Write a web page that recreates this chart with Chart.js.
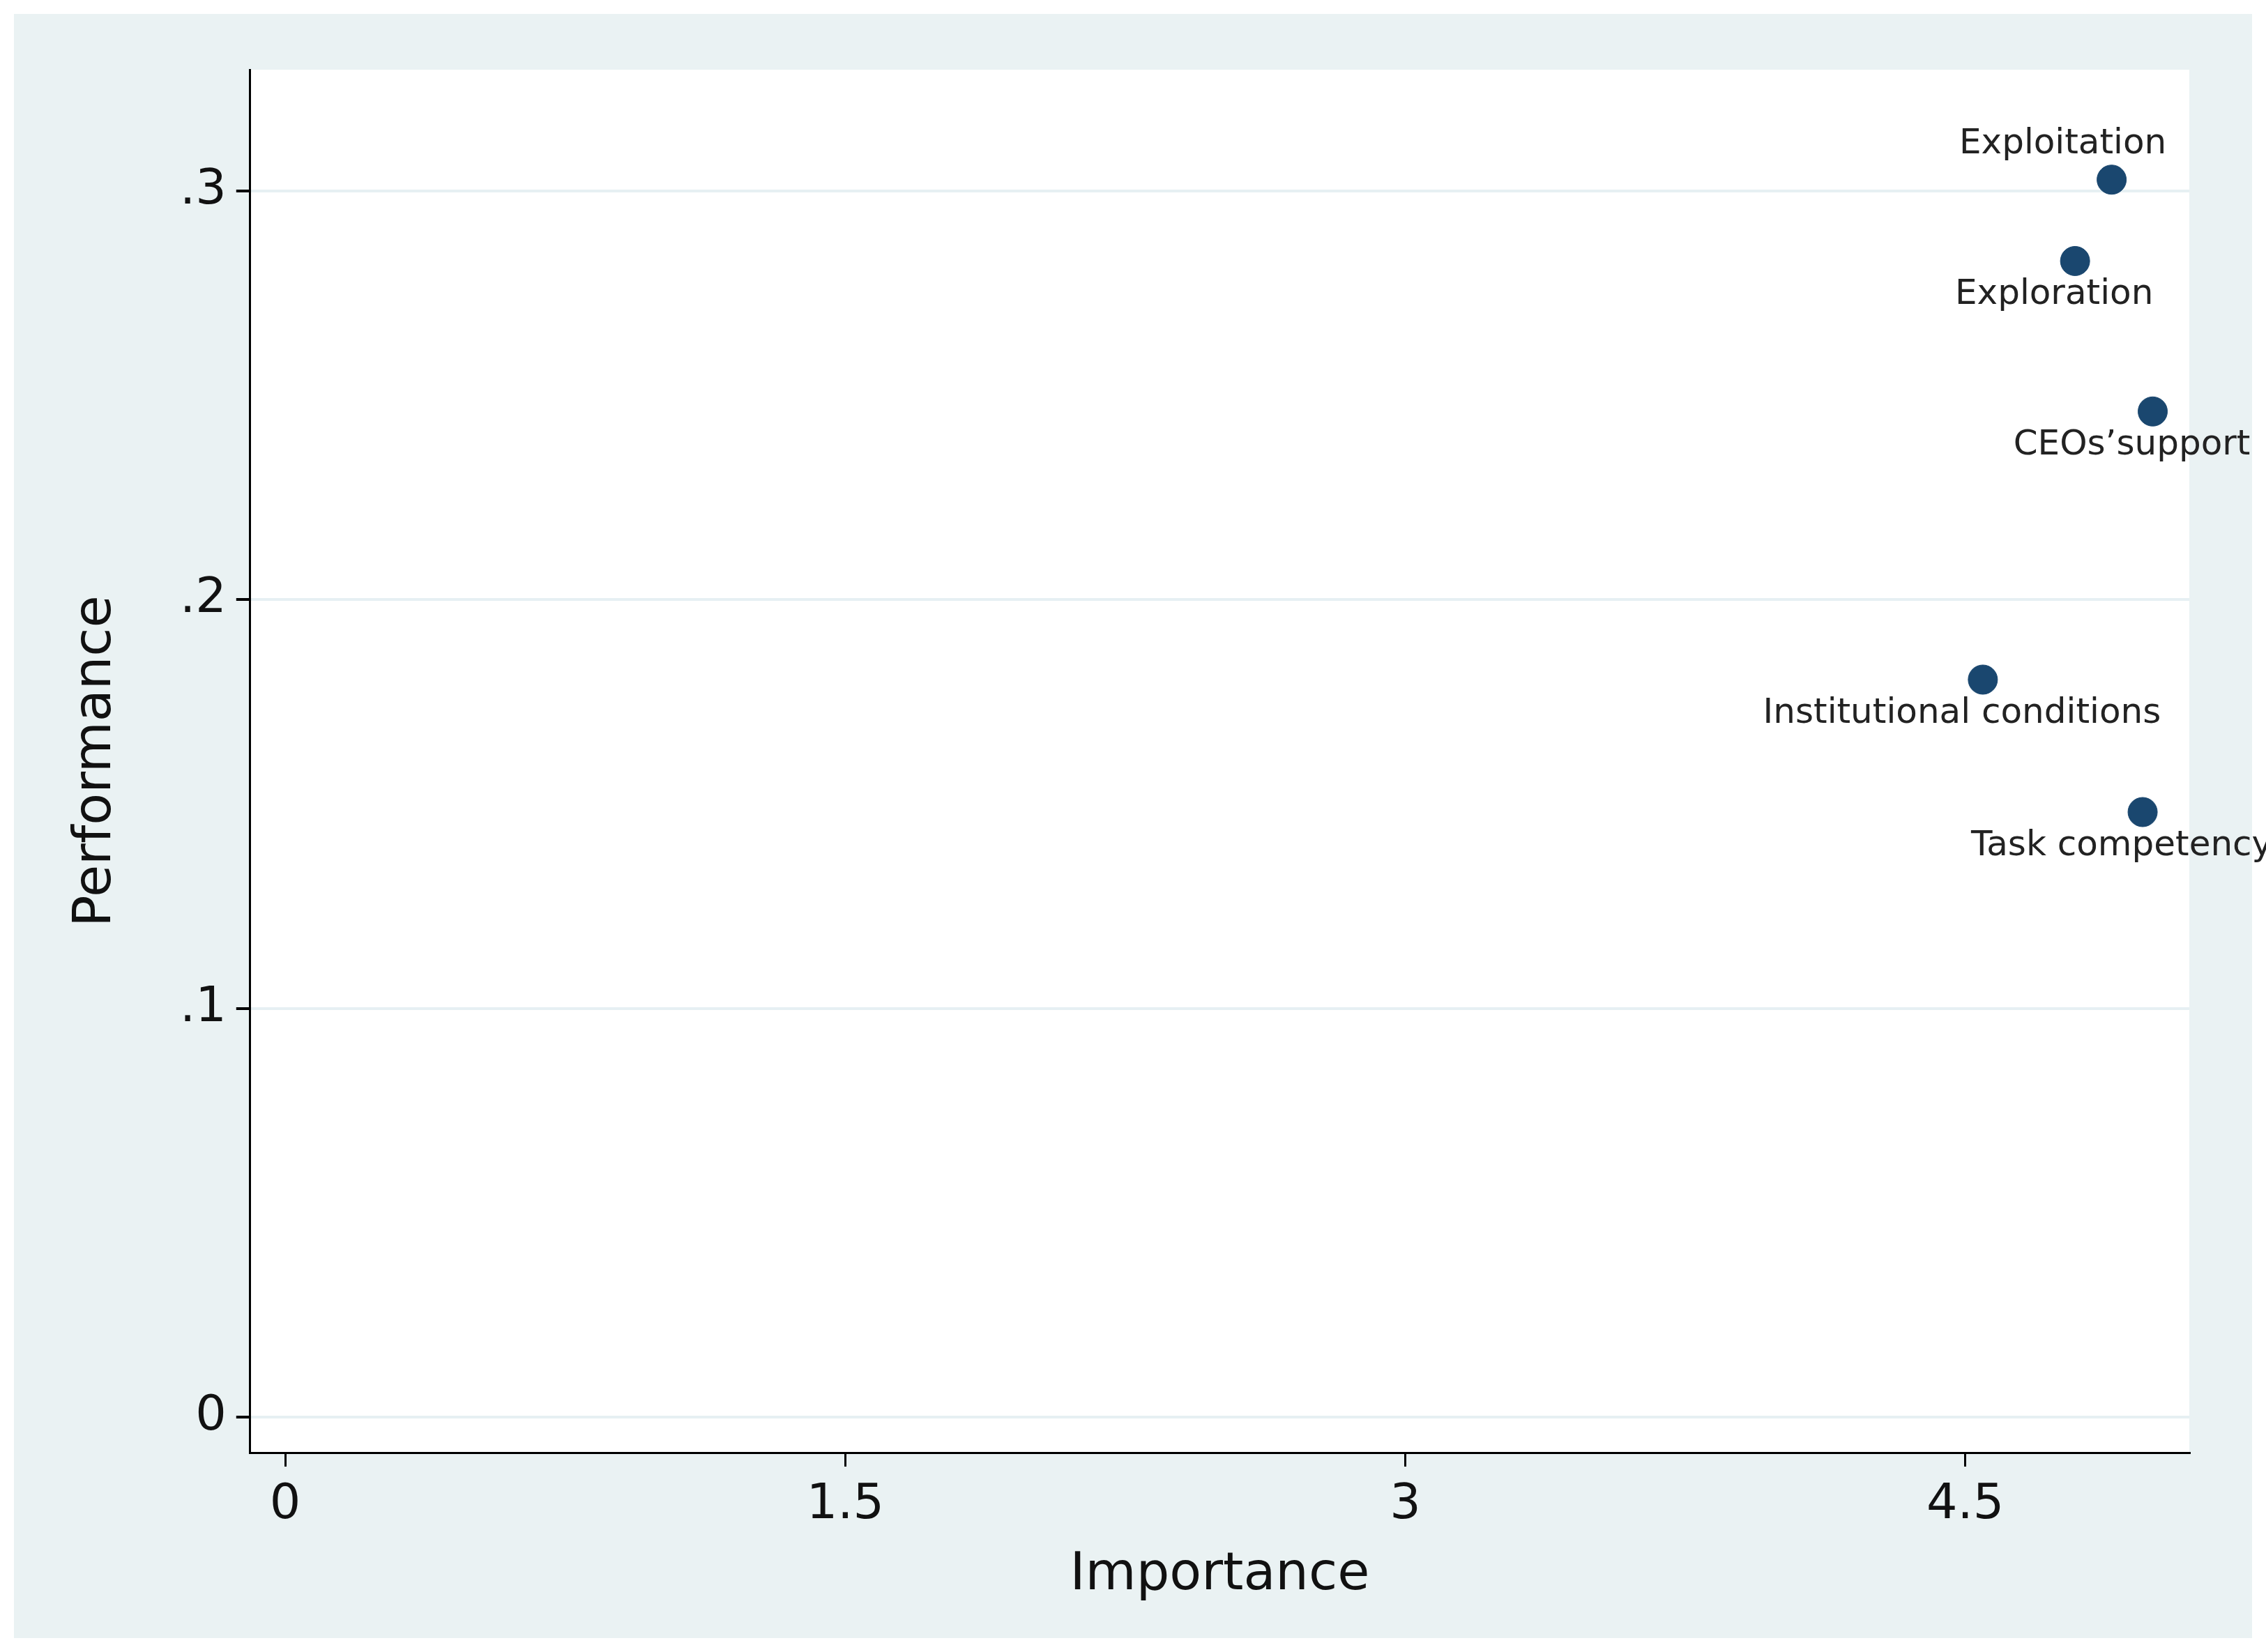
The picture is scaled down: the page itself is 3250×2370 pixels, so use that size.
<!DOCTYPE html>
<html><head><meta charset="utf-8">
<script src="https://cdn.jsdelivr.net/npm/chart.js@4"></script>
<style>html,body{margin:0;padding:0;background:#fff}#w{width:3250px;height:2370px}</style>
</head><body><div id="w"><canvas id="c"></canvas></div>
<script>
const labels = ["Exploitation","Exploration","CEOs\u2019support","Institutional conditions","Task competency"];
const importance = [4.892, 4.794, 5.002, 4.547, 4.975];
const performance = [0.3027, 0.2828, 0.246, 0.1804, 0.148];
const labelAbove = [true, false, false, false, false];
const xTicks = [0, 1.5, 3, 4.5];
const yTicks = [0, 0.1, 0.2, 0.3];
const yTickText = ["0", ".1", ".2", ".3"];

const bgPlugin = {
  id: 'bg',
  beforeDraw(ch) {
    const ctx = ch.ctx, a = ch.chartArea;
    ctx.save();
    ctx.fillStyle = '#ffffff'; ctx.fillRect(0,0,ch.width,ch.height);
    ctx.fillStyle = '#eaf2f3'; ctx.fillRect(20,20,ch.width-40,ch.height-40);
    ctx.fillStyle = '#ffffff'; ctx.fillRect(a.left,a.top,a.right-a.left,a.bottom-a.top);
    ctx.restore();
  }
};
const labelPlugin = {
  id: 'pl',
  afterDatasetsDraw(ch) {
    const ctx = ch.ctx, meta = ch.getDatasetMeta(0);
    ctx.save();
    ctx.font = '50px "DejaVu Sans", sans-serif';
    ctx.fillStyle = '#222'; ctx.textAlign = 'center';
    meta.data.forEach((p, i) => {
      if (labelAbove[i]) { ctx.textBaseline = 'bottom'; ctx.fillText(labels[i], p.x - 70, p.y - 26); }
      else { ctx.textBaseline = 'top'; ctx.fillText(labels[i], p.x - 30, p.y + 24); }
    });
    ctx.restore();
  }
};

new Chart(document.getElementById('c'), {
  type: 'scatter',
  data: { datasets: [{ data: importance.map((x,i)=>({x, y: performance[i]})),
    backgroundColor: '#1a476f', borderColor: '#1a476f', pointRadius: 21, pointHoverRadius: 21 }] },
  options: {
    responsive: true, maintainAspectRatio: false, animation: false,
    layout: { padding: { left: 90, right: 110, top: 100, bottom: 60 } },
    plugins: { legend: { display: false }, tooltip: { enabled: false } },
    scales: {
      x: { type: 'linear', min: -0.094, max: 5.10,
        afterBuildTicks: s => { s.ticks = xTicks.map(v=>({value:v})); },
        ticks: { font: { size: 70, family: 'DejaVu Sans' }, color: '#111', padding: 14, callback: v => String(v) },
        grid: { drawOnChartArea: false, tickLength: 20, tickColor: '#000', lineWidth: 3 },
        border: { color: '#000', width: 3 },
        title: { display: true, text: 'Importance', font: { size: 75, family: 'DejaVu Sans' }, color: '#111', padding: { top: 0 } } },
      y: { type: 'linear', min: -0.0087, max: 0.3296,
        afterBuildTicks: s => { s.ticks = yTicks.map(v=>({value:v})); },
        ticks: { font: { size: 70, family: 'DejaVu Sans' }, color: '#111', padding: 14,
          callback: v => yTickText[yTicks.findIndex(t=>Math.abs(t-v)<1e-9)] },
        grid: { color: '#e6f0f3', lineWidth: 4, tickLength: 20, tickColor: '#000' },
        border: { color: '#000', width: 3 },
        title: { display: true, text: 'Performance', font: { size: 75, family: 'DejaVu Sans' }, color: '#111', padding: { bottom: 60 } } }
    }
  },
  plugins: [bgPlugin, labelPlugin]
});
</script></body></html>
